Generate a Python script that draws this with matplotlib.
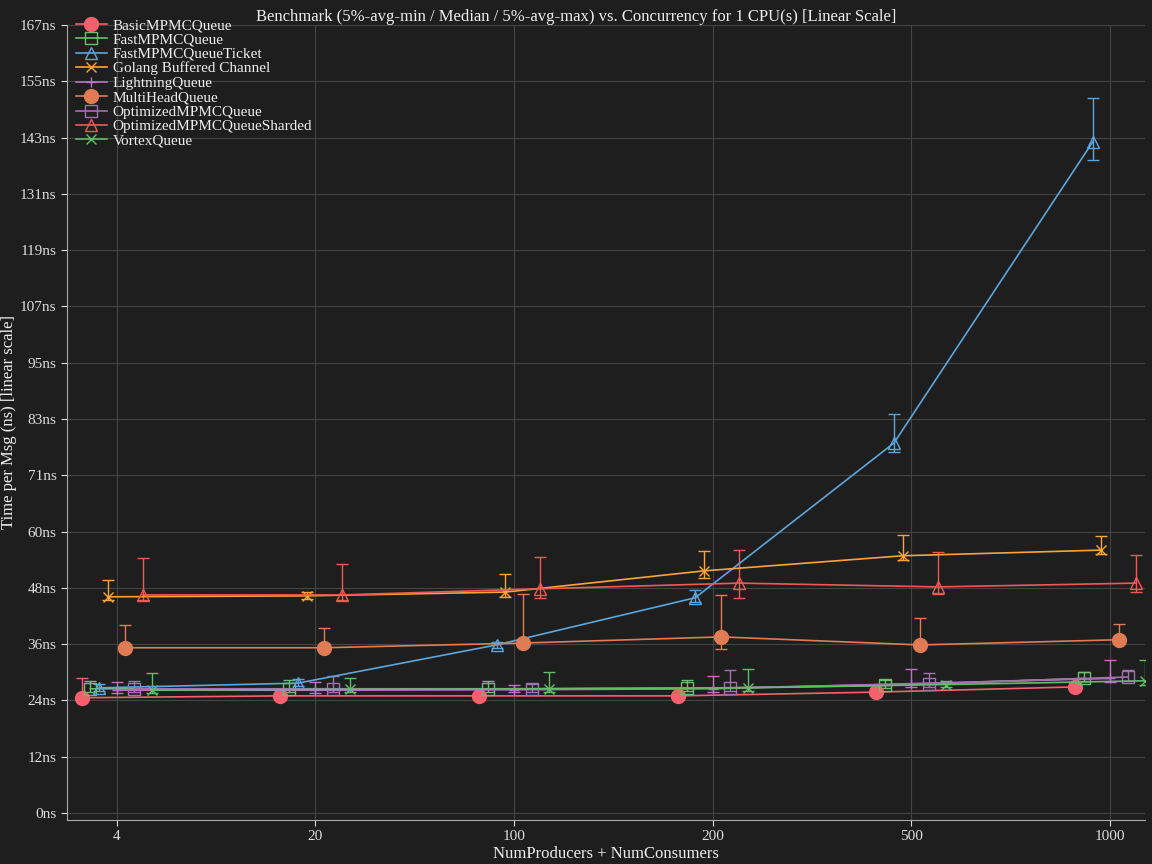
import matplotlib
matplotlib.use("Agg")
import matplotlib.pyplot as plt
from matplotlib.lines import Line2D
import numpy as np

cats = ["4", "20", "100", "200", "500", "1000"]
names = ["BasicMPMCQueue", "FastMPMCQueue", "FastMPMCQueueTicket", "Golang Buffered Channel",
         "LightningQueue", "MultiHeadQueue", "OptimizedMPMCQueue", "OptimizedMPMCQueueSharded", "VortexQueue"]
med = [
    [24.4, 24.8, 24.8, 24.8, 25.6, 26.7],
    [26.3, 26.3, 26.3, 26.4, 27.0, 28.5],
    [26.5, 27.5, 35.6, 45.6, 78.4, 142.2],
    [45.8, 46.0, 46.8, 51.3, 54.5, 55.7],
    [26.0, 26.0, 26.1, 26.3, 27.4, 28.5],
    [35.0, 35.0, 36.0, 37.3, 35.6, 36.7],
    [26.3, 26.3, 26.3, 26.5, 27.4, 28.8],
    [46.2, 46.2, 47.5, 48.7, 47.9, 48.7],
    [26.0, 26.2, 26.3, 26.5, 27.2, 28.0],
]
lo = [
    [24.0, 24.4, 24.4, 24.4, 25.2, 26.3],
    [25.6, 25.6, 25.6, 25.8, 26.4, 27.9],
    [25.8, 26.8, 35.0, 44.8, 76.5, 138.4],
    [45.2, 45.4, 45.8, 49.8, 53.6, 54.9],
    [25.4, 25.4, 25.6, 25.6, 26.6, 27.8],
    [34.6, 34.6, 35.4, 34.8, 35.0, 36.1],
    [25.6, 25.6, 25.6, 25.8, 26.6, 27.9],
    [45.2, 45.2, 45.6, 45.6, 46.4, 46.8],
    [25.4, 25.6, 25.6, 25.8, 26.6, 27.2],
]
hi = [
    [28.6, 25.2, 25.2, 25.2, 26.0, 27.1],
    [28.0, 28.2, 28.0, 28.2, 28.2, 29.8],
    [27.4, 28.4, 36.2, 47.3, 84.5, 151.5],
    [49.4, 46.9, 50.6, 55.5, 58.9, 58.7],
    [27.8, 27.8, 27.0, 29.0, 30.6, 32.4],
    [39.8, 39.2, 46.4, 46.2, 41.3, 40.0],
    [27.9, 29.0, 27.4, 30.2, 29.6, 30.2],
    [54.0, 52.8, 54.2, 55.7, 55.3, 54.7],
    [29.6, 28.6, 29.8, 30.4, 28.0, 32.4],
]
ytick_labels = ["0ns", "12ns", "24ns", "36ns", "48ns", "60ns", "71ns", "83ns", "95ns",
                "107ns", "119ns", "131ns", "143ns", "155ns", "167ns"]
colors = ["#F4606C", "#6CBF6C", "#5DA5DA", "#FAA43A", "#C070C8", "#E07B54", "#A070B0", "#F15854", "#60BD68"]
markers = ["o", "s", "^", "x", "+", "o", "s", "^", "x"]
filled = [True, False, False, False, False, True, False, False, False]

bg = "#1e1e1e"
plt.rcParams["font.family"] = ["Liberation Serif", "DejaVu Serif"]
fig = plt.figure(figsize=(11.52, 8.64), dpi=100, facecolor=bg)
ax = fig.add_axes([0.058, 0.051, 0.936, 0.92], facecolor=bg)

x = np.arange(len(cats))
handles = []
for i, n in enumerate(names):
    xs = x + (i - 4) * 0.044
    m = np.array(med[i]); l = np.array(lo[i]); h = np.array(hi[i])
    c = colors[i]
    ms = 10 if filled[i] else (7 if markers[i] in "x+" else 9)
    ax.errorbar(xs, m, yerr=[m - l, h - m], color=c, lw=1.2, elinewidth=1.0, capsize=4,
                marker=markers[i], ms=ms,
                mfc=c if filled[i] else "none", mec=c, mew=1.0, zorder=3)
    handles.append(Line2D([], [], color=c, lw=1.2, marker=markers[i], ms=ms,
                          mfc=c if filled[i] else "none", mec=c, label=n))

ticks = np.linspace(0, 167, 15)
ax.set_yticks(ticks)
ax.set_yticklabels(ytick_labels)
ax.set_ylim(-1.5, 167)
ax.set_xticks(x)
ax.set_xticklabels(cats)
ax.set_xlim(-0.251, 5.176)
ax.grid(True, color="#444444", lw=0.8)
ax.set_axisbelow(True)
for s in ["top", "right"]:
    ax.spines[s].set_visible(False)
for s in ["left", "bottom"]:
    ax.spines[s].set_color("#aaaaaa")
ax.tick_params(colors="#dddddd", labelsize=11, length=4)
ax.set_xlabel("NumProducers + NumConsumers", color="#eeeeee", fontsize=12, labelpad=2)
ax.set_ylabel("Time per Msg (ns) [linear scale]", color="#eeeeee", fontsize=12, labelpad=2)
fig.text(0.5, 0.99, "Benchmark (5%-avg-min / Median / 5%-avg-max) vs. Concurrency for 1 CPU(s) [Linear Scale]",
         ha="center", va="top", color="#eeeeee", fontsize=12)
leg = ax.legend(handles=handles, loc="upper left", bbox_to_anchor=(0.0, 1.02), frameon=False, fontsize=11,
                labelspacing=0.05, handlelength=2, handletextpad=0.4, borderaxespad=0.2)
for t in leg.get_texts():
    t.set_color("#eeeeee")
fig.savefig("out.png", dpi=100, facecolor=bg)
